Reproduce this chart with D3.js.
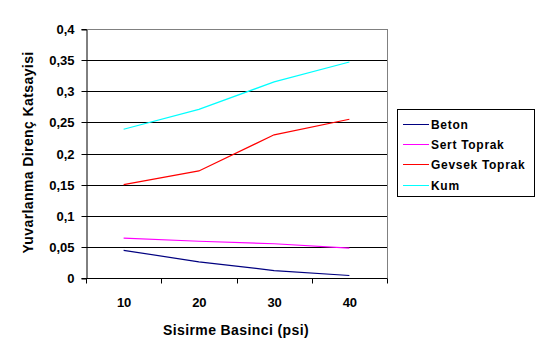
<!DOCTYPE html>
<html><head><meta charset="utf-8">
<script src="https://cdn.jsdelivr.net/npm/d3@7"></script>
<style>
body{margin:0;background:#fff;}
text{font-family:"Liberation Sans",Arial,sans-serif;font-weight:bold;fill:#000;}
</style></head>
<body>
<svg id="c" width="540" height="360"></svg>
<script>
const categories = [10, 20, 30, 40];
const yTicks = [0, 0.05, 0.1, 0.15, 0.2, 0.25, 0.3, 0.35, 0.4];
const seriesNames = ["Beton", "Sert Toprak", "Gevsek Toprak", "Kum"];
const beton = [0.0445, 0.026, 0.012, 0.004];
const sertToprak = [0.064, 0.059, 0.055, 0.048];
const gevsekToprak = [0.15, 0.172, 0.23, 0.255];
const kum = [0.239, 0.271, 0.315, 0.347];
const colors = ["#000080", "#ff00ff", "#ff0000", "#00ffff"];
const values = [beton, sertToprak, gevsekToprak, kum];

const svg = d3.select("#c");
const L = 86, R = 387, T = 29, B = 278;
const x = d3.scaleBand().domain(categories).range([L, R]);
const y = d3.scaleLinear().domain([0, 0.4]).range([B, T]);
const fmt = d => String(d).replace(".", ",");

// grid
svg.append("g").selectAll("line").data(yTicks.filter(d => d > 0 && d < 0.4)).join("line")
  .attr("x1", L).attr("x2", R).attr("y1", d => Math.round(y(d)) + 0.5).attr("y2", d => Math.round(y(d)) + 0.5)
  .attr("stroke", "#000").attr("stroke-width", 1);
// top & right border
svg.append("line").attr("x1", L).attr("x2", R + 0.5).attr("y1", T + 0.5).attr("y2", T + 0.5).attr("stroke", "#808080");
svg.append("line").attr("x1", R + 0.5).attr("x2", R + 0.5).attr("y1", T).attr("y2", B).attr("stroke", "#808080");

// y axis
const yAxis = svg.append("g").attr("transform", `translate(${L + 0.5},0.5)`)
  .call(d3.axisLeft(y).tickValues(yTicks).tickFormat(fmt).tickSize(5).tickPadding(7));
yAxis.select(".domain").attr("stroke", "#000");
yAxis.selectAll(".tick line").attr("stroke", "#000");
yAxis.selectAll("text").style("font-size", "13px").attr("fill", "#000");
yAxis.selectAll(".tick").attr("transform", d => `translate(0,${Math.round(y(d))})`);

// x axis
const xAxis = svg.append("g").attr("transform", `translate(0.5,${B + 0.5})`)
  .call(d3.axisBottom(x).tickSize(0).tickPadding(19));
xAxis.select(".domain").attr("stroke", "#000").attr("d", `M${L},0H${R}`);
xAxis.selectAll("text").style("font-size", "13px").attr("fill", "#000");
const bounds = categories.map(c => x(c)).concat([R]);
xAxis.append("g").selectAll("line").data(bounds).join("line")
  .attr("x1", d => Math.round(d)).attr("x2", d => Math.round(d)).attr("y1", 0).attr("y2", 5).attr("stroke", "#000");

// lines
const line = d3.line().x((d, i) => x(categories[i]) + x.bandwidth() / 2).y(d => y(d));
svg.append("g").selectAll("path").data(values).join("path")
  .attr("d", d => line(d)).attr("fill", "none").attr("stroke", (d, i) => colors[i]).attr("stroke-width", 1.2);

// titles
svg.append("text").attr("x", 236).attr("y", 335).attr("text-anchor", "middle")
  .style("font-size", "14px").style("letter-spacing", "0.4px").text("Sisirme Basinci (psi)");
svg.append("text").attr("transform", "translate(33,152.5) rotate(-90)").attr("text-anchor", "middle")
  .style("font-size", "14px").style("letter-spacing", "0.4px").text("Yuvarlanma Direnç Katsayisi");

// legend
const lg = svg.append("g");
lg.append("rect").attr("x", 397.5).attr("y", 109.5).attr("width", 137).attr("height", 87)
  .attr("fill", "#fff").attr("stroke", "#000");
const ly = [124, 144, 164, 185];
seriesNames.forEach((n, i) => {
  lg.append("line").attr("x1", 403).attr("x2", 429).attr("y1", ly[i] + 0.5).attr("y2", ly[i] + 0.5).attr("stroke", colors[i]);
  lg.append("text").attr("x", 431).attr("y", ly[i] + 4.5).style("font-size", "12px").style("letter-spacing", "0.7px").text(n);
});
</script>
</body></html>
